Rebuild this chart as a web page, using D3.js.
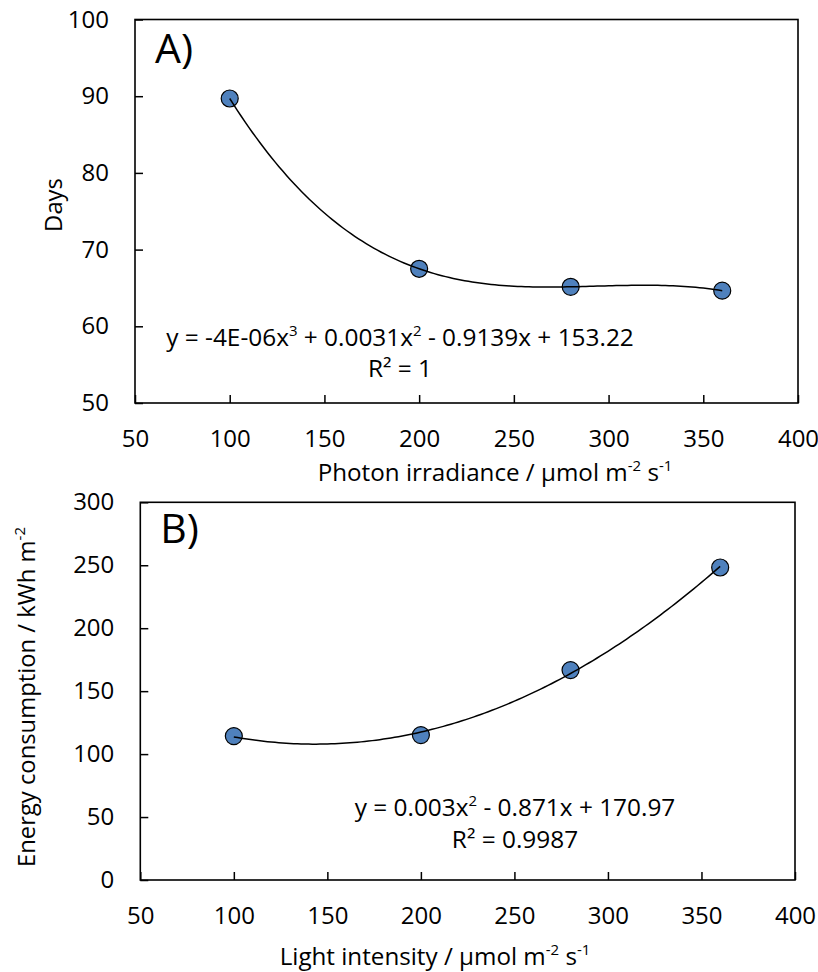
<!DOCTYPE html>
<html>
<head>
<meta charset="utf-8">
<script src="https://cdn.jsdelivr.net/npm/d3@7"></script>
<style>
  body { margin: 0; background: #fff; }
  text { font-family: "Open Sans", sans-serif; fill: #000; }
</style>
</head>
<body>
<div id="chart"></div>
<script>
// data
const lightLevels = [100, 200, 280, 360];
const days = [89.7, 67.5, 65.15, 64.65];
const energy = [114.3, 115.1, 166.7, 248.2];

const xTicks = [50, 100, 150, 200, 250, 300, 350, 400];
const daysTicks = [50, 60, 70, 80, 90, 100];
const energyTicks = [0, 50, 100, 150, 200, 250, 300];

const width = 818, height = 972;

const svg = d3.select("#chart")
  .append("svg")
  .attr("width", width)
  .attr("height", height);

// least squares polynomial fit (like an Excel trendline)
function polyFit(xs, ys, deg) {
  const s = 100; // rescale x to keep the system well conditioned
  const n = deg + 1;
  const A = [];
  for (let i = 0; i < n; i++) {
    A.push(new Array(n + 1).fill(0));
  }
  xs.forEach((x, k) => {
    const u = x / s;
    for (let i = 0; i < n; i++) {
      for (let j = 0; j < n; j++) A[i][j] += Math.pow(u, i + j);
      A[i][n] += ys[k] * Math.pow(u, i);
    }
  });
  for (let c = 0; c < n; c++) {
    let p = c;
    for (let r = c + 1; r < n; r++) if (Math.abs(A[r][c]) > Math.abs(A[p][c])) p = r;
    [A[c], A[p]] = [A[p], A[c]];
    for (let r = 0; r < n; r++) {
      if (r === c) continue;
      const f = A[r][c] / A[c][c];
      for (let j = c; j <= n; j++) A[r][j] -= f * A[c][j];
    }
  }
  const coef = A.map((row, i) => row[n] / row[i]);
  return x => coef.reduce((acc, c, i) => acc + c * Math.pow(x / s, i), 0);
}

function drawPanel(cfg) {
  const x = d3.scaleLinear().domain([50, 400]).range([cfg.left, cfg.right]);
  const y = d3.scaleLinear().domain(cfg.yDomain).range([cfg.bottom, cfg.top]);

  const g = svg.append("g");

  // axes, ticks pointing inward
  g.append("g")
    .attr("transform", `translate(0,${cfg.bottom})`)
    .call(d3.axisBottom(x).tickValues(xTicks).tickSize(-8).tickPadding(27))
    .call(a => a.select(".domain").remove())
    .call(a => a.selectAll("line").attr("stroke", "#000").attr("stroke-width", 1.5))
    .call(a => a.selectAll("text").attr("font-size", 24).attr("font-family", "Open Sans"));

  g.append("g")
    .attr("transform", `translate(${cfg.left},0)`)
    .call(d3.axisLeft(y).tickValues(cfg.yTicks).tickSize(-8).tickPadding(26))
    .call(a => a.select(".domain").remove())
    .call(a => a.selectAll("line").attr("stroke", "#000").attr("stroke-width", 1.5))
    .call(a => a.selectAll("text").attr("font-size", 24).attr("font-family", "Open Sans"));

  // plot frame
  g.append("rect")
    .attr("x", cfg.left)
    .attr("y", cfg.top)
    .attr("width", cfg.right - cfg.left)
    .attr("height", cfg.bottom - cfg.top)
    .attr("fill", "none")
    .attr("stroke", "#000")
    .attr("stroke-width", 1.6);

  // markers
  g.selectAll("circle")
    .data(lightLevels)
    .join("circle")
    .attr("cx", d => x(d))
    .attr("cy", (d, i) => y(cfg.values[i]))
    .attr("r", 8.5)
    .attr("fill", "#4f81bd")
    .attr("stroke", "#000")
    .attr("stroke-width", 1.2);

  // trendline drawn on top of markers
  const fit = polyFit(lightLevels, cfg.values, cfg.degree);
  const xs = d3.range(lightLevels[0], lightLevels[lightLevels.length - 1] + 0.5, 2);
  g.append("path")
    .datum(xs)
    .attr("fill", "none")
    .attr("stroke", "#000")
    .attr("stroke-width", 1.5)
    .attr("d", d3.line().x(d => x(d)).y(d => y(fit(d))));

  // panel letter
  g.append("text")
    .attr("x", cfg.left + 20)
    .attr("y", cfg.top + cfg.letterDy)
    .attr("font-size", 41)
    .text(cfg.letter);

  // equation and R²
  const eq = g.append("text")
    .attr("x", cfg.eqX)
    .attr("y", cfg.eqY)
    .attr("text-anchor", "middle")
    .attr("font-size", 24.4);
  cfg.equation.forEach(part => {
    if (part.sup) {
      eq.append("tspan").attr("baseline-shift", "super").attr("font-size", 15).text(part.sup);
    } else {
      eq.append("tspan").text(part.t);
    }
  });
  g.append("text")
    .attr("x", cfg.eqX)
    .attr("y", cfg.eqY + cfg.lineGap)
    .attr("text-anchor", "middle")
    .attr("font-size", 24.4)
    .text(cfg.r2);

  // x title
  const xt = g.append("text")
    .attr("x", cfg.xTitleX)
    .attr("y", cfg.xTitleY)
    .attr("text-anchor", "middle")
    .attr("font-size", 24.2);
  xt.append("tspan").text(cfg.xTitle + " / µmol m");
  xt.append("tspan").attr("baseline-shift", "super").attr("font-size", 15).text("-2");
  xt.append("tspan").text(" s");
  xt.append("tspan").attr("baseline-shift", "super").attr("font-size", 15).text("-1");

  // y title
  const yt = g.append("text")
    .attr("transform", `translate(${cfg.yTitleX},${cfg.yTitleY}) rotate(-90)`)
    .attr("text-anchor", "middle")
    .attr("font-size", 23.8);
  yt.append("tspan").text(cfg.yTitle);
  if (cfg.yTitleSup) {
    yt.append("tspan").attr("baseline-shift", "super").attr("font-size", 15).text(cfg.yTitleSup);
  }
}

drawPanel({
  left: 135, right: 798, top: 19.5, bottom: 403,
  yDomain: [50, 100], yTicks: daysTicks, values: days, degree: 3,
  letter: "A)", letterDy: 43,
  equation: [{t: "y = -4E-06x"}, {sup: "3"}, {t: " + 0.0031x"}, {sup: "2"}, {t: " - 0.9139x + 153.22"}],
  r2: "R² = 1", eqX: 400, eqY: 346, lineGap: 31,
  xTitle: "Photon irradiance", xTitleX: 495, xTitleY: 481,
  yTitle: "Days", yTitleSup: null, yTitleX: 62, yTitleY: 205
});

drawPanel({
  left: 140.3, right: 795, top: 502.3, bottom: 880,
  yDomain: [0, 300], yTicks: energyTicks, values: energy, degree: 2,
  letter: "B)", letterDy: 41,
  equation: [{t: "y = 0.003x"}, {sup: "2"}, {t: " - 0.871x + 170.97"}],
  r2: "R² = 0.9987", eqX: 515, eqY: 816, lineGap: 32,
  xTitle: "Light intensity", xTitleX: 435, xTitleY: 965,
  yTitle: "Energy consumption / kWh m", yTitleSup: "-2", yTitleX: 35, yTitleY: 697
});
</script>
</body>
</html>
